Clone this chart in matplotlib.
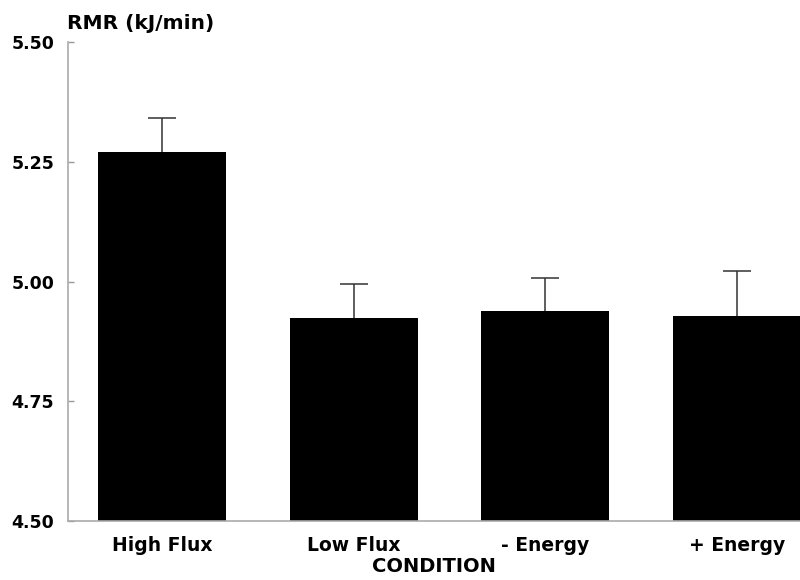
import matplotlib.pyplot as plt
import numpy as np

conditions = ["High Flux", "Low Flux", "- Energy", "+ Energy"]
rmr = [5.271, 4.924, 4.938, 4.929]
sem = [0.070, 0.071, 0.070, 0.094]
yticks = [4.50, 4.75, 5.00, 5.25, 5.50]

plt.rcParams['font.family'] = 'DejaVu Sans'
plt.rcParams['font.weight'] = 'bold'

fig = plt.figure(figsize=(8, 5.8), dpi=100)
ax = fig.add_axes([0.085, 0.1017, 0.915, 0.8253])

x = np.arange(len(conditions))
ax.bar(x, rmr, width=0.668, color='black', zorder=2)
# upper error bars only
top = np.array(rmr) + np.array(sem)
ax.vlines(x, rmr, top, color='#333333', linewidth=1.1, zorder=1)
ax.hlines(top, x - 0.073, x + 0.073, color='#333333', linewidth=1.1, zorder=1)

ax.set_ylim(4.5, 5.5)
ax.set_xlim(-0.493, 3.329)
ax.set_yticks(yticks)
ax.set_yticklabels(["%.2f" % t for t in yticks], fontsize=12.5, fontweight='bold')
ax.set_xticks(x)
ax.set_xticklabels(conditions, fontsize=13.5, fontweight='bold')

ax.tick_params(axis='y', direction='in', length=4, width=1, color='#999999', pad=10)
ax.tick_params(axis='x', length=0, pad=11)

for s in ['top', 'right']:
    ax.spines[s].set_visible(False)
for s in ['left', 'bottom']:
    ax.spines[s].set_color('#aaaaaa')
    ax.spines[s].set_linewidth(1.2)

ax.set_xlabel("CONDITION", fontsize=14, fontweight='bold', labelpad=1)
fig.text(0.084, 0.96, "RMR (kJ/min)", fontsize=14.5, fontweight='bold', va='center', ha='left')

fig.savefig("out.png", dpi=100)
